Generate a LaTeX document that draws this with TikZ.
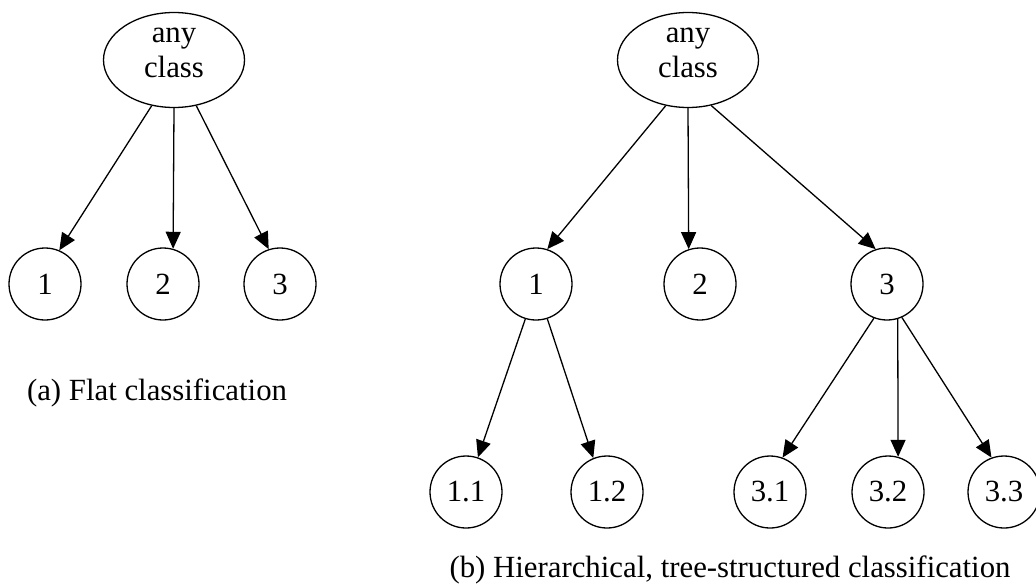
\documentclass[tikz,border=0pt]{standalone}
\usepackage{fontspec}
\setmainfont{Liberation Serif}
\usetikzlibrary{arrows.meta,shapes.geometric}

\begin{document}
\begin{tikzpicture}[x=0.5pt,y=-0.5pt,line width=0.65pt,
    font=\fontsize{15.4}{17.5}\selectfont,
    root/.style={draw,ellipse,inner sep=0pt,minimum width=70.5pt,minimum height=47.5pt,align=center,text depth=7.5pt},
    leaf/.style={draw,circle,inner sep=0pt,minimum size=36pt},
    edge/.style={-{Triangle[length=8.5pt,width=7.5pt]}}]
      \useasboundingbox (0,0) rectangle (1036,584);
      % (a) flat
      \node[root] (aroot) at (174,60) {any\\class};
      \node[leaf] (a1) at (45,284) {1};
      \node[leaf] (a2) at (163,284) {2};
      \node[leaf] (a3) at (280,284) {3};
      \draw[edge] (aroot.-116) -- (a1.67);
      \draw[edge] (aroot.-90) -- (a2.74);
      \draw[edge] (aroot.-64) -- (a3.108);
      \node[anchor=base] (acap) at (157,400) {(a) Flat classification};
      % (b) hierarchical
      \node[root] (broot) at (688,60) {any\\class};
      \node[leaf] (b1) at (536,284) {1};
      \node[leaf] (b2) at (700,284) {2};
      \node[leaf] (b3) at (887,284) {3};
      \node[leaf] (b11) at (466,492) {1.1};
      \node[leaf] (b12) at (607,492) {1.2};
      \node[leaf] (b31) at (770,492) {3.1};
      \node[leaf] (b32) at (888,492) {3.2};
      \node[leaf] (b33) at (1004,492) {3.3};
      \draw[edge] (broot.-116) -- (b1.72);
      \draw[edge] (broot.-90) -- (b2.108);
      \draw[edge] (broot.-63) -- (b3.108);
      \draw[edge] (b1.-107) -- (b11.71);
      \draw[edge] (b1.-72) -- (b12.112);
      \draw[edge] (b3.-111) -- (b31.70);
      \draw[edge] (b3.-73) -- (b32.74);
      \draw[edge] (b3.-66) -- (b33.110);
      \node[anchor=base] (bcap) at (730,577) {(b) Hierarchical, tree-structured classification};
\end{tikzpicture}
\end{document}
